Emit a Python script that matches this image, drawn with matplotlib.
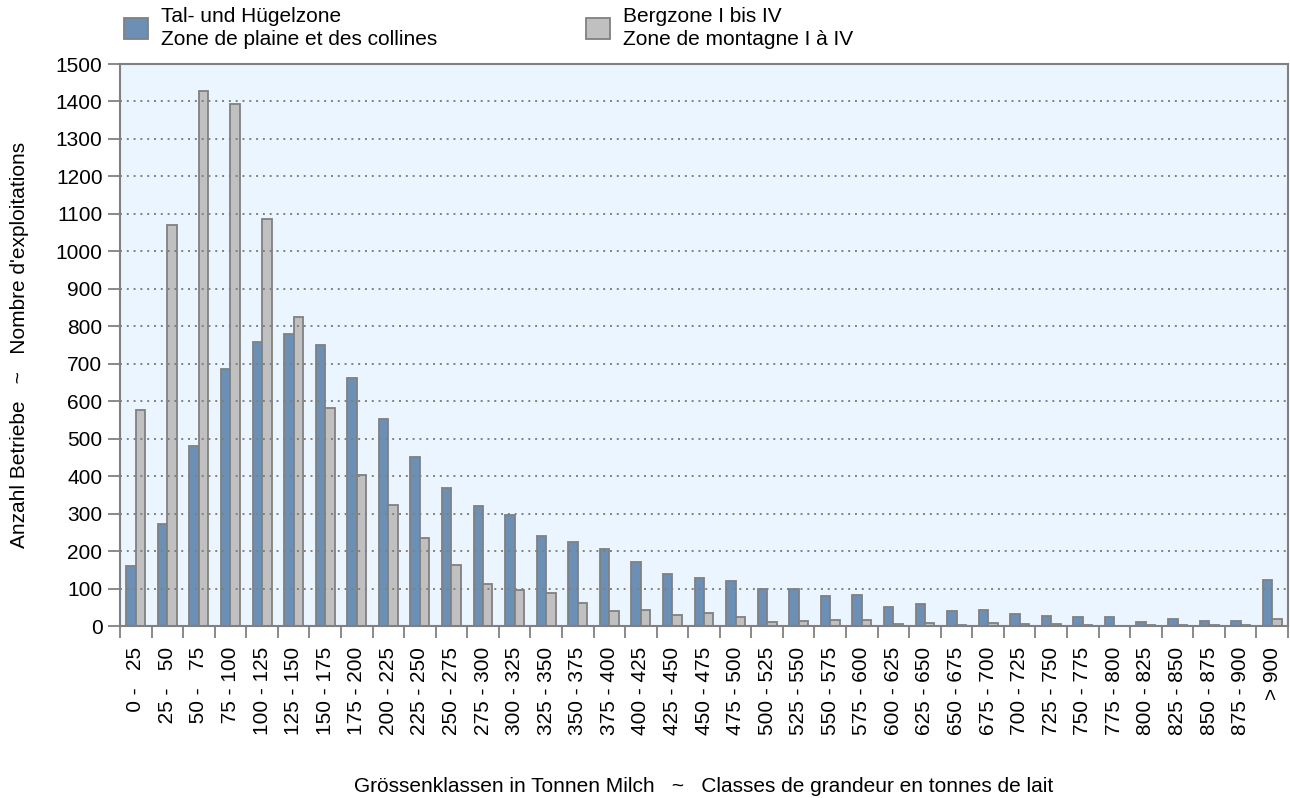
import numpy as np
import matplotlib.pyplot as plt

plt.rcParams['font.family'] = ['Liberation Sans', 'DejaVu Sans']

# size classes (tonnes of milk)
lows = list(range(0, 900, 25))
highs = list(range(25, 925, 25))

# number of farms per class
tal = [160, 272, 480, 685, 757, 780, 750, 662, 553, 452, 368, 320, 295, 240,
       223, 206, 172, 139, 128, 119, 99, 99, 79, 82, 52, 59, 41, 43, 32, 27,
       23, 23, 10, 18, 14, 14, 124]
berg = [577, 1070, 1427, 1393, 1087, 825, 583, 403, 322, 234, 164, 111, 95, 89,
        61, 41, 43, 30, 34, 25, 12, 14, 16, 16, 5, 7, 4, 7, 5, 5,
        3, 1, 4, 3, 3, 4, 18]

fs = '\u2007'
labels = [f"{lo:{fs}>3} - {hi:{fs}>3}" for lo, hi in zip(lows, highs)] + ["> 900"]

c_blue = '#6C8FB6'
c_gray = '#C0C0C0'
c_edge = '#808080'
fsize = 15

fig = plt.figure(figsize=(12.9, 7.98), dpi=100)
ax = fig.add_axes([120/1290, 1 - 626/798, (1288 - 120)/1290, (626 - 64)/798])
ax.set_facecolor('#EBF5FF')

x = np.arange(len(labels))
w = 0.3
b1 = ax.bar(x - w/2, tal, w, color=c_blue, edgecolor=c_edge, linewidth=1.3,
            label="Tal- und Hügelzone\nZone de plaine et des collines")
b2 = ax.bar(x + w/2, berg, w, color=c_gray, edgecolor=c_edge, linewidth=1.3,
            label="Bergzone I bis IV\nZone de montagne I à IV")

ax.set_xlim(-0.5, len(labels) - 0.5)
ax.set_ylim(0, 1500)
ax.set_yticks(range(0, 1501, 100))
ax.set_xticks(x)
ax.set_xticklabels(labels, rotation=90, va='top', ha='center')
ax.set_xticks(np.arange(-0.5, len(labels), 1.0), minor=True)

ax.tick_params(axis='x', which='major', length=0, pad=15, labelsize=fsize)
ax.tick_params(axis='x', which='minor', length=8.6, width=1.3, color=c_edge)
ax.tick_params(axis='y', length=8.6, width=1.3, color=c_edge, pad=4, labelsize=fsize)

for s in ax.spines.values():
    s.set_color(c_edge)
    s.set_linewidth(1.5)

ax.set_axisbelow(False)
ax.yaxis.grid(True, color=c_edge, linestyle=(0, (1, 2.5)), linewidth=1.4)

ax.set_ylabel("Anzahl Betriebe   ~   Nombre d'exploitations", fontsize=fsize)
ax.yaxis.set_label_coords(-0.078, 0.5)
ax.set_xlabel("Grössenklassen in Tonnen Milch   ~   Classes de grandeur en tonnes de lait", fontsize=fsize)
ax.xaxis.set_label_coords(0.5, -0.268)

leg = fig.legend(handles=[b1, b2], loc='upper left', bbox_to_anchor=(124/1290, 1 - 7/798),
                 ncol=2, frameon=False, fontsize=fsize, handlelength=1.15, handleheight=1.2,
                 handletextpad=0.62, columnspacing=7.15, borderpad=0, borderaxespad=0)
for t in leg.get_texts():
    t.set_linespacing(1.25)

fig.savefig('out.png', dpi=100)
